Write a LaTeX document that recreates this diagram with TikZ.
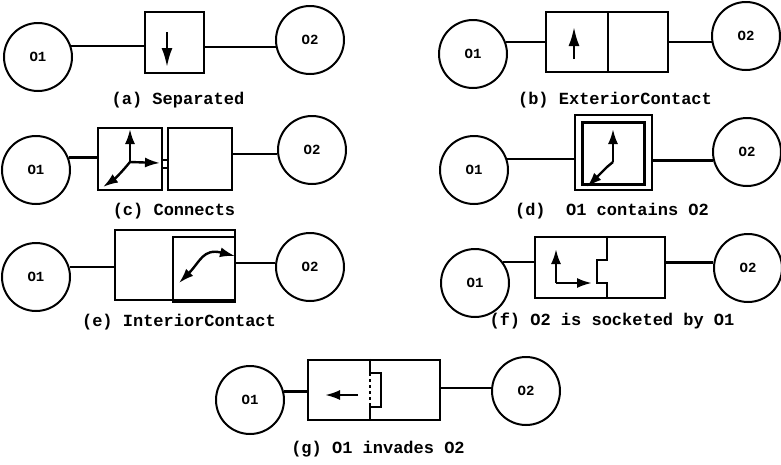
\documentclass[tikz,border=0pt]{standalone}
\usepackage{fontspec}
\newfontfamily\lbfont{Liberation Mono}
\usetikzlibrary{arrows.meta}
\begin{document}
\begin{tikzpicture}[x=1pt,y=-1pt,
  obj/.style={circle,draw,line width=2pt,minimum size=68pt,inner sep=0pt,font=\lbfont\bfseries\fontsize{14}{14}\selectfont},
  bx/.style={draw,line width=2.2pt,inner sep=0pt},
  conn/.style={line width=2.2pt},
  arr/.style={line width=2.4pt,-{Latex[length=19pt,width=11pt]}},
  sarr/.style={line width=2.4pt,-{Latex[length=15pt,width=10pt]}},
  darr/.style={line width=2.4pt,{Latex[length=15pt,width=10pt]}-{Latex[length=15pt,width=10pt]}},
  lbl/.style={font=\lbfont\bfseries\fontsize{17}{17}\selectfont,inner sep=0pt}]
\useasboundingbox (0,0) rectangle (781,464);
% ---------- (a)
\node[obj] (a1) at (38,57) {O1};
\node[obj] (a2) at (310,40) {O2};
\node[bx,minimum width=59pt,minimum height=61pt] (ab) at (174.5,42.5) {};
\coordinate (aat) at (167,32); \coordinate (aah) at (167,67);
\draw[arr] (aat) -- (aah);
\draw[conn] (a1.18) -- (a1.18 -| ab.west);
\draw[conn] (a2.192 -| ab.east) -- (a2.192);
\node[lbl] (la) at (178,100) {(a) Separated};
% ---------- (b)
\node[obj] (b1) at (473,54) {O1};
\node[obj] (b2) at (746,36) {O2};
\node[bx,minimum width=62pt,minimum height=60pt] (bl) at (577,42) {};
\node[bx,minimum width=60pt,minimum height=60pt] (br) at (638,42) {};
\coordinate (bat) at (574,59); \coordinate (bah) at (574,27);
\draw[arr] (bat) -- (bah);
\draw[conn] (b1.20) -- (b1.20 -| bl.west);
\draw[conn] (b2.190 -| br.east) -- (b2.190);
\node[lbl] (lb) at (615,100) {(b) ExteriorContact};
% ---------- (c)
\node[obj] (c1) at (36,170) {O1};
\node[obj] (c2) at (312,150) {O2};
\node[bx,minimum width=64pt,minimum height=62pt] (cl) at (130,159) {};
\node[bx,minimum width=64pt,minimum height=62pt] (cr) at (200,159) {};
\fill[white] (cl.east |- 0,161) rectangle (cr.west |- 0,167);
\draw[conn] (cl.east |- 0,160) -- (cr.west |- 0,160);
\draw[conn] (cl.east |- 0,168) -- (cr.west |- 0,168);
\coordinate (co) at (130,162);
\coordinate (cu) at (130,129); \coordinate (cri) at (160,163); \coordinate (cdl) at (103,187);
\draw[sarr] (co) -- (cu);
\draw[sarr] (co) -- (cri);
\draw[sarr] (co) to[bend left=8] (cdl);
\draw[conn] (c1.21) -- (c1.21 -| cl.west);
\draw[conn] (c2.187 -| cr.east) -- (c2.187);
\node[lbl] (lc) at (174,211) {(c) Connects};
% ---------- (d)
\node[obj] (d1) at (474,170) {O1};
\node[obj] (d2) at (747,152) {O2};
\node[bx,minimum width=77pt,minimum height=75pt] (db) at (613.5,152.5) {};
\node[bx,line width=3pt,minimum width=62pt,minimum height=62pt] (dbi) at (613.5,153.5) {};
\coordinate (dot) at (613,162); \coordinate (du) at (613,129);
\coordinate (dk) at (607,167); \coordinate (ddl) at (587,187);
\draw[sarr] (dot) -- (du);
\draw[sarr] (dot) -- (dk) -- (ddl);
\draw[conn] (d1.18) -- (d1.18 -| db.west);
\draw[conn] (d2.194 -| db.east) -- (d2.194);
\node[lbl] (ld) at (612,211) {(d)~~O1 contains O2};
% ---------- (e)
\node[obj] (e1) at (36,277) {O1};
\node[obj] (e2) at (310,267) {O2};
\node[bx,minimum width=120pt,minimum height=70pt] (eb) at (175,265) {};
\node[bx,minimum width=62pt,minimum height=63pt,line width=2.4pt] (ei) at (204,268.5) {};
\draw[line width=4pt] (ei.south west) -- (ei.south east);
\coordinate (es) at (179,283); \coordinate (ee) at (235,256);
\draw[darr] (es) .. controls (200,262) and (203,248) .. (ee);
\draw[conn] (e1.16) -- (e1.16 -| eb.west);
\draw[conn] (e2.173 -| eb.east) -- (e2.173);
\node[lbl] (le) at (179,322) {(e) InteriorContact};
% ---------- (f)
\node[obj] (f1) at (475,283) {O1};
\node[obj] (f2) at (748,268) {O2};
\node[bx,minimum width=130pt,minimum height=61pt] (fb) at (600,267.5) {};
\coordinate (fs1) at (607,260); \coordinate (fs2) at (597,260);
\coordinate (fs3) at (597,283); \coordinate (fs4) at (607,283);
\draw[conn] (fb.north -| fs1) -- (fs1) -- (fs2) -- (fs3) -- (fs4) -- (fb.south -| fs4);
\coordinate (fo) at (556,283); \coordinate (fu) at (556,249); \coordinate (fr) at (592,283);
\draw[sarr] (fo) -- (fu);
\draw[sarr] (fo) -- (fr);
\draw[conn] (f1.37) -- (f1.37 -| fb.west);
\draw[conn] (f2.171 -| fb.east) -- (f2.171);
\node[lbl] (lf) at (612,321) {(f) O2 is socketed by O1};
% ---------- (g)
\node[obj] (g1) at (250,400) {O1};
\node[obj] (g2) at (526,391) {O2};
\node[bx,minimum width=132pt,minimum height=60pt] (gb) at (374,390) {};
\coordinate (gd1) at (370,373); \coordinate (gd2) at (370,407);
\coordinate (gp1) at (381,373); \coordinate (gp2) at (381,407);
\draw[conn] (gb.north -| gd1) -- (gd1) -- (gp1) -- (gp2) -- (gd2) -- (gb.south -| gd2);
\draw[line width=2.2pt,dash pattern=on 3pt off 3pt] (gd1) -- (gd2);
\coordinate (gat) at (358,395); \coordinate (gah) at (325,395);
\draw[sarr] (gat) -- (gah);
\draw[conn] (g1.14) -- (g1.14 -| gb.west);
\draw[conn] (g2.175 -| gb.east) -- (g2.175);
\node[lbl] (lg) at (378,449) {(g) O1 invades O2};
\end{tikzpicture}
\end{document}
